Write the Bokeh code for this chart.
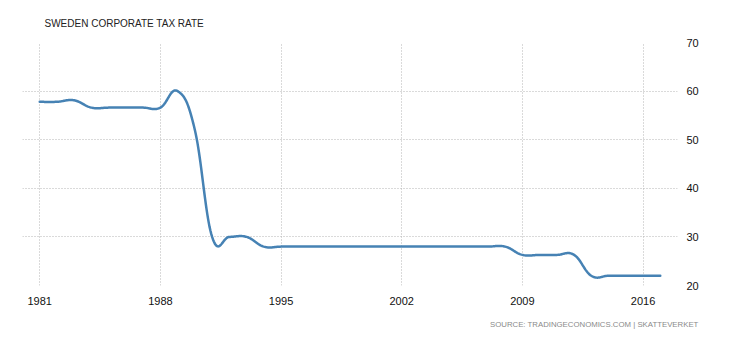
import numpy as np
from bokeh.plotting import figure
from bokeh.models import FixedTicker, Title, Range1d
from bokeh.embed import file_html
from bokeh.resources import INLINE

# ---- data ----
years = list(range(1981, 2018))
rates = [57.8, 57.8, 58.1, 56.6, 56.6, 56.6, 56.6, 56.6,   # 1981-1988
         60.0, 52.0,                                       # 1989-1990
         30.0, 30.0, 30.0,                                 # 1991-1993
         28.0, 28.0, 28.0, 28.0, 28.0, 28.0, 28.0, 28.0,   # 1994-2001
         28.0, 28.0, 28.0, 28.0, 28.0, 28.0, 28.0,         # 2002-2008
         26.3, 26.3, 26.3, 26.3,                           # 2009-2012
         22.0, 22.0, 22.0, 22.0, 22.0]                     # 2013-2017
x_ticks = [1981, 1988, 1995, 2002, 2009, 2016]
y_ticks = [20, 30, 40, 50, 60, 70]
title_text = "SWEDEN CORPORATE TAX RATE"
source_text = "SOURCE: TRADINGECONOMICS.COM | SKATTEVERKET"

FONT = "Liberation Sans"

# ---- Highcharts-style spline (smoothing 1.5) ----
def spline(xs, ys, smoothing=1.5, n=24):
    xs = np.asarray(xs, float); ys = np.asarray(ys, float)
    N = len(xs)
    lc = [(x, y) for x, y in zip(xs, ys)]
    rc = [(x, y) for x, y in zip(xs, ys)]
    d = smoothing + 1
    for i in range(1, N - 1):
        px, py = xs[i], ys[i]
        lx, ly = xs[i - 1], ys[i - 1]
        nx, ny = xs[i + 1], ys[i + 1]
        lcx = (smoothing * px + lx) / d; lcy = (smoothing * py + ly) / d
        rcx = (smoothing * px + nx) / d; rcy = (smoothing * py + ny) / d
        corr = (rcy - lcy) * (rcx - px) / (rcx - lcx) + py - rcy
        lc[i] = (lcx, lcy + corr)
        rc[i] = (rcx, rcy + corr)
    t = np.linspace(0, 1, n)
    X, Y = [xs[0]], [ys[0]]
    for i in range(1, N):
        p0 = (xs[i - 1], ys[i - 1]); c1 = rc[i - 1]; c2 = lc[i]; p3 = (xs[i], ys[i])
        a = (1 - t) ** 3; b = 3 * (1 - t) ** 2 * t; c = 3 * (1 - t) * t ** 2; e = t ** 3
        X.extend((a * p0[0] + b * c1[0] + c * c2[0] + e * p3[0])[1:])
        Y.extend((a * p0[1] + b * c1[1] + c * c2[1] + e * p3[1])[1:])
    return X, Y

sx, sy = spline(years, rates)

p = figure(width=730, height=340, output_backend="svg", toolbar_location=None,
           x_range=Range1d(1980, 2018), y_range=Range1d(20, 70),
           y_axis_location="right",
           min_border_left=22, min_border_right=53, min_border_top=42, min_border_bottom=55)
p.outline_line_color = None
p.background_fill_color = "white"
p.border_fill_color = "white"

p.line(sx, sy, line_color="#4682b4", line_width=2.5, line_join="round", line_cap="round")

for ax in (p.xaxis[0], p.yaxis[0]):
    ax.axis_line_color = None
    ax.major_tick_line_color = None
    ax.minor_tick_line_color = None
    ax.major_label_text_font = FONT
    ax.major_label_text_font_size = "11px"
    ax.major_label_text_color = "#111111"
p.xaxis[0].ticker = FixedTicker(ticks=x_ticks)
p.yaxis[0].ticker = FixedTicker(ticks=y_ticks)
p.xaxis[0].major_label_standoff = 5
p.yaxis[0].major_label_standoff = 3

for g in (p.xgrid[0], p.ygrid[0]):
    g.grid_line_color = "#b4b4b4"
    g.grid_line_dash = "1 2"
    g.grid_line_width = 1
p.xgrid[0].ticker = FixedTicker(ticks=x_ticks)
p.ygrid[0].ticker = FixedTicker(ticks=y_ticks)

p.add_layout(Title(text=title_text, align="left", offset=22, standoff=28,
                   text_font=FONT, text_font_size="10px", text_color="#222222",
                   text_font_style="normal"), "above")
p.add_layout(Title(text=source_text, align="right", offset=-21, standoff=20,
                   text_font=FONT, text_font_size="7.8px", text_color="#8a8a8a",
                   text_font_style="normal"), "below")

open("out.html", "w").write(file_html(p, INLINE))
